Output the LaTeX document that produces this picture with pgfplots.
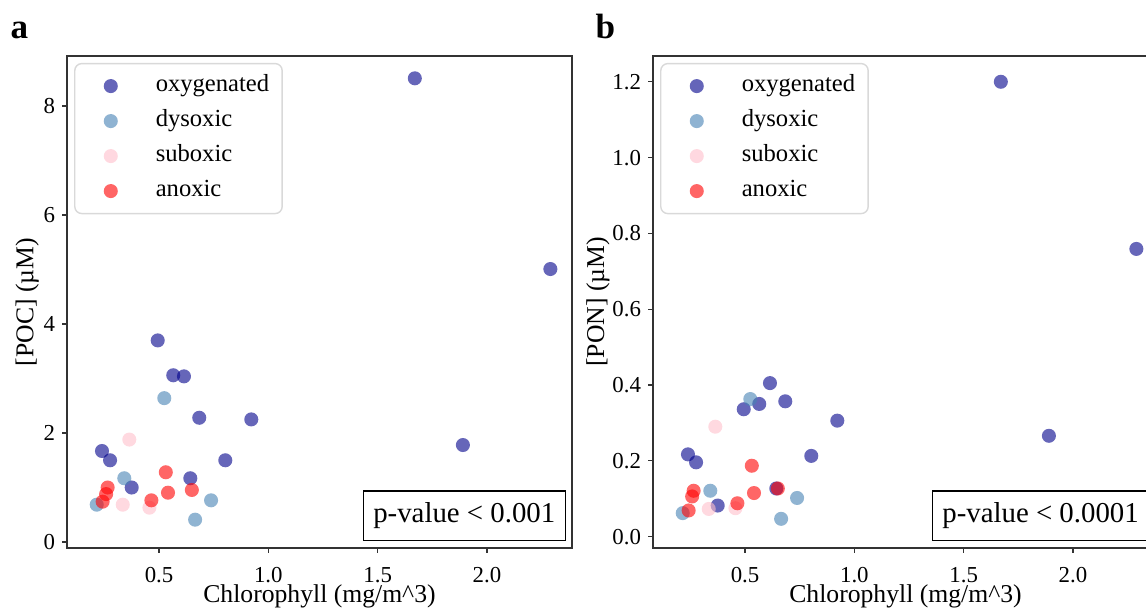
\documentclass[border=0pt]{standalone}
\usepackage{pgfplots}
\pgfplotsset{compat=1.18}
\usepackage{fontspec}
\setmainfont{Liberation Serif}
\definecolor{oxy}{HTML}{00008B}
\definecolor{dys}{HTML}{4682B4}
\definecolor{sub}{HTML}{FFC0CB}
\definecolor{ano}{HTML}{FF0000}

\pgfplotsset{
  panel/.style={
    scale only axis, width=5.05cm, height=4.92cm, anchor=south west,
    xmin=0.079, xmax=2.389,
    axis line style={black!80, line width=0.35pt},
    tick align=outside, major tick length=1.3pt,
    every tick/.style={black!80, line width=0.35pt},
    xtick pos=bottom, ytick pos=left,
    xtick={0.5,1,1.5,2},
    xticklabels={0.5,1.0,1.5,2.0},
    tick label style={font=\fontsize{6.5}{7}\selectfont},
    xticklabel style={yshift=-0.02cm},
    yticklabel style={xshift=0.05cm},
    /pgf/number format/assume math mode=true,
    scaled ticks=false,
    xlabel={Chlorophyll (mg/m\textasciicircum 3)},
    xlabel style={font=\fontsize{7.3}{8}\selectfont, at={(axis description cs:0.5,-0.098)}, anchor=center},
    ylabel style={font=\fontsize{7.3}{8}\selectfont, anchor=center},
    legend cell align=left,
    legend style={at={(axis description cs:0.014,0.986)}, anchor=north west,
      draw=black!15, rounded corners=2pt, fill=white, fill opacity=0.8, text opacity=1,
      inner xsep=0.08cm, inner ysep=0.05cm, row sep=0pt,
      font=\fontsize{7}{8}\selectfont,
      nodes={inner xsep=0.05cm, inner ysep=0pt}},
    legend image code/.code={%
      \path[draw=none, fill=none] (-0.28cm,-0.175cm) rectangle (0.40cm,0.175cm);
      \draw[##1] plot coordinates {(0cm,0cm)};},
  },
  mk/.style={only marks, mark=*, mark size=2pt,
    mark options={fill=#1, fill opacity=0.6, draw opacity=0}},
}

\begin{document}
\begin{tikzpicture}
% ---------- panel a ----------
\begin{axis}[panel, at={(0.67cm,0.61cm)},
  ymin=-0.11, ymax=8.92, ytick={0,2,4,6,8},
  ylabel={[POC] (µM)},
  ylabel style={at={(axis description cs:-0.079,0.5)}},
]
\addplot[mk=oxy] coordinates {
 (1.67,8.51) (2.29,5.01) (1.89,1.78) (0.494,3.70) (0.565,3.06) (0.614,3.04)
 (0.684,2.28) (0.922,2.25) (0.239,1.67) (0.276,1.50) (0.803,1.50) (0.643,1.17) (0.375,1.00)};
\addlegendentry{oxygenated}
\addplot[mk=dys] coordinates {
 (0.524,2.64) (0.341,1.17) (0.738,0.765) (0.665,0.41) (0.215,0.685)};
\addlegendentry{dysoxic}
\addplot[mk=sub] coordinates {
 (0.364,1.88) (0.334,0.685) (0.456,0.63)};
\addlegendentry{suboxic}
\addplot[mk=ano] coordinates {
 (0.531,1.28) (0.541,0.905) (0.650,0.955) (0.465,0.765) (0.265,1.00) (0.258,0.88) (0.242,0.74)};
\addlegendentry{anoxic}
\node[draw=black, line width=0.4pt, fill=white, anchor=south east, inner xsep=0.1cm,
  minimum height=0.46cm, font=\fontsize{8.2}{9}\selectfont]
  at (axis description cs:0.988,0.014) {p-value < 0.001};
\end{axis}
% ---------- panel b ----------
\begin{axis}[panel, at={(6.53cm,0.61cm)},
  ymin=-0.03, ymax=1.268, ytick={0,0.2,0.4,0.6,0.8,1.0,1.2},
  yticklabel style={/pgf/number format/.cd, fixed, fixed zerofill, precision=1},
  ylabel={[PON] (µM)},
  ylabel style={at={(axis description cs:-0.109,0.5)}},
]
\addplot[mk=oxy] coordinates {
 (1.67,1.20) (2.29,0.759) (1.89,0.266) (0.494,0.336) (0.565,0.350) (0.614,0.405)
 (0.684,0.357) (0.922,0.306) (0.239,0.217) (0.276,0.196) (0.803,0.213) (0.643,0.127) (0.375,0.082)};
\addlegendentry{oxygenated}
\addplot[mk=dys] coordinates {
 (0.524,0.363) (0.341,0.121) (0.738,0.102) (0.665,0.047) (0.215,0.062)};
\addlegendentry{dysoxic}
\addplot[mk=sub] coordinates {
 (0.364,0.290) (0.334,0.073) (0.456,0.075)};
\addlegendentry{suboxic}
\addplot[mk=ano] coordinates {
 (0.531,0.187) (0.541,0.115) (0.650,0.127) (0.465,0.088) (0.265,0.121) (0.258,0.106) (0.242,0.069)};
\addlegendentry{anoxic}
\node[draw=black, line width=0.4pt, fill=white, anchor=south east, inner xsep=0.1cm,
  minimum height=0.46cm, font=\fontsize{8.2}{9}\selectfont]
  at (axis description cs:0.983,0.014) {p-value < 0.0001};
\end{axis}
\node[anchor=base west, inner sep=0pt, font=\bfseries\fontsize{10}{12}\selectfont] at (0.10,5.70) {a};
\node[anchor=base west, inner sep=0pt, font=\bfseries\fontsize{10}{12}\selectfont] at (5.95,5.70) {b};
\pgfresetboundingbox
\useasboundingbox (0,0) rectangle (11.46,6.09);
\end{tikzpicture}
\end{document}
